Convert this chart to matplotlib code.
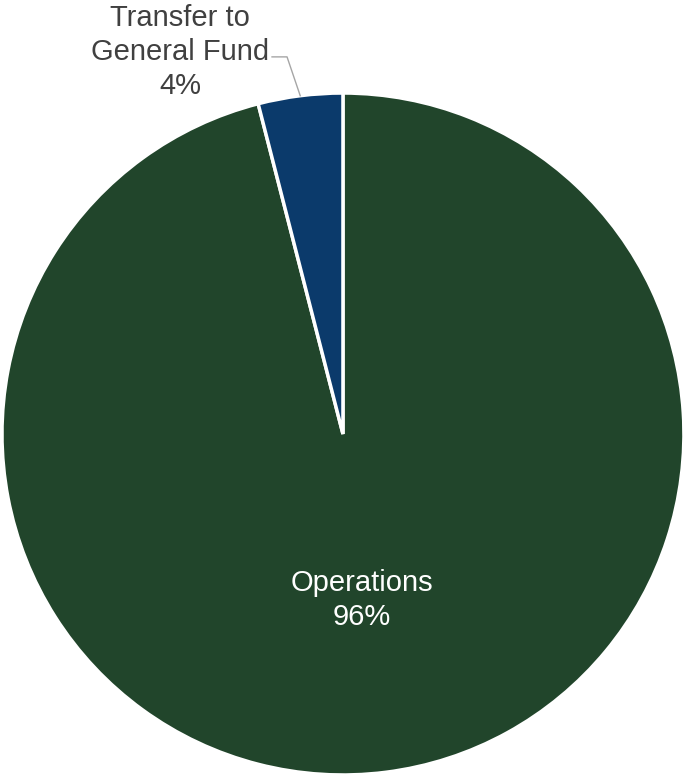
import numpy as np
import matplotlib.pyplot as plt

plt.rcParams['font.family'] = ['Liberation Sans', 'DejaVu Sans']

labels = ["Operations", "Transfer to\nGeneral Fund"]
shares = [96, 4]
colors = ["#21452b", "#0b3a6b"]

fig = plt.figure(figsize=(6.84, 7.75), dpi=100)
ax = fig.add_axes([0.0029, 0.0, 0.997, 0.88])
wedges, _ = ax.pie(shares, colors=colors, startangle=90, counterclock=False,
                   wedgeprops=dict(edgecolor="white", linewidth=2.5))
ax.set_xlim(-1, 1)
ax.set_ylim(-1, 1)
ax.set_aspect("equal")
ax.axis("off")

# inside label for the big slice
ax.text(0.056, -0.488, f"{labels[0]}\n{shares[0]}%", ha="center", va="center",
        color="white", fontsize=21, linespacing=1.28)

# outside label with leader line for the small slice
w = wedges[1]
mid = np.deg2rad((w.theta1 + w.theta2) / 2)
ex, ey = np.cos(mid), np.sin(mid)
ax.plot([ex, -0.164, -0.208], [ey, 1.106, 1.106], color="#a6a6a6", lw=1,
        clip_on=False)
ax.text(-0.478, 1.12, f"{labels[1]}\n{shares[1]}%", ha="center", va="center",
        color="#404040", fontsize=21, linespacing=1.28)

fig.savefig("out.png", dpi=100)
